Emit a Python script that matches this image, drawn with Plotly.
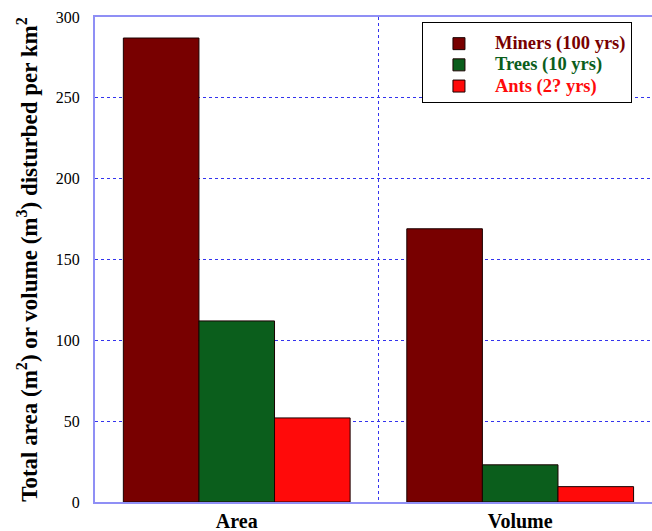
import plotly.graph_objects as go

categories = ["Area", "Volume"]
series_names = ["Miners (100 yrs)", "Trees (10 yrs)", "Ants (2? yrs)"]
miners = [287, 169]
trees = [112, 23]
ants = [52, 9.5]
colors = ["#780000", "#0b5e1c", "#ff0a0a"]
y_ticks = [0, 50, 100, 150, 200, 250, 300]

fig = go.Figure()
for name, vals, col in zip(series_names, [miners, trees, ants], colors):
    fig.add_trace(go.Bar(
        x=categories, y=vals,
        name=f"<span style='color:{col};font-size:18.5px'><b>{name}</b></span>",
        marker=dict(color=col, line=dict(color="#1a0000", width=1)),
    ))

fig.update_layout(
    width=652, height=531,
    margin=dict(l=95, r=0, t=17, b=29),
    paper_bgcolor="white", plot_bgcolor="white",
    barmode="group", bargap=0.2, bargroupgap=0,
    font=dict(family="Liberation Serif", color="black"),
    showlegend=True,
    legend=dict(
        x=0.587, y=0.99, xanchor="left", yanchor="top",
        bordercolor="black", borderwidth=1, bgcolor="white",
        font=dict(size=14, family="Liberation Serif"),
        itemwidth=62,
        title=dict(text=" ", font=dict(size=4)),
    ),
    xaxis=dict(
        range=[-0.5, 1.465], automargin=False,
        tickson="boundaries", ticks="",
        showgrid=True, gridcolor="#3333ee", griddash="dot", gridwidth=1,
        showline=True, linecolor="#8f8ff5", linewidth=2, mirror=True,
        tickfont=dict(size=20, family="Liberation Serif"),
        tickprefix="<b>", ticksuffix="</b>",
        ticklabelstandoff=0,
    ),
    yaxis=dict(
        range=[0, 300], tickvals=y_ticks, automargin=False,
        showgrid=True, gridcolor="#3333ee", griddash="dot", gridwidth=1,
        showline=True, linecolor="#8f8ff5", linewidth=2, mirror=False,
        ticks="", ticklabelstandoff=10,
        tickfont=dict(size=16, family="Liberation Serif"),
        zeroline=False,
        title=dict(
            text="<b>Total area (m<sup>2</sup>) or volume (m<sup>3</sup>) disturbed per km<sup>2</sup></b>",
            font=dict(size=23, family="Liberation Serif"),
            standoff=12,
        ),
    ),
)

fig.write_html(
    "out.html",
    config={"displayModeBar": False},
    post_script="document.body.style.margin='0px';document.body.style.overflow='hidden';",
)
